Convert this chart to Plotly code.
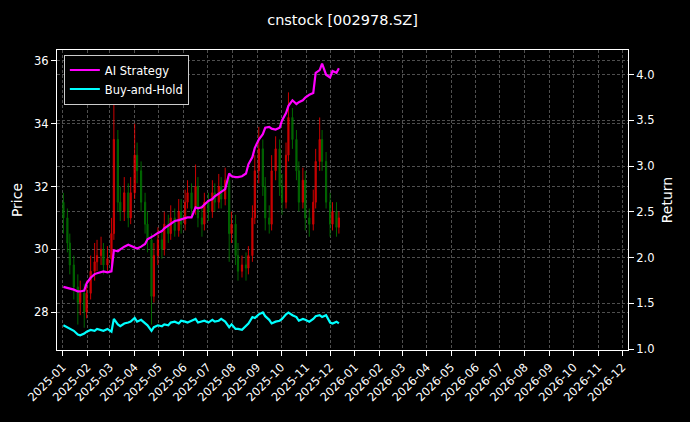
import pandas as pd
import plotly.graph_objects as go

open_ = [31.5,31.0,30.2,29.5,28.8,28.3,28.6,28.0,28.6,29.3,
         29.6,29.8,30.0,29.5,29.7,30.5,33.5,31.5,31.2,31.8,
         31.0,31.8,33.0,32.5,31.5,30.8,30.3,28.5,29.8,30.3,
         30.0,30.8,30.5,31.0,30.6,31.2,30.8,31.5,31.8,31.3,
         32.0,31.0,30.8,31.5,31.2,31.8,31.5,32.0,31.6,32.2,
         30.5,30.8,29.8,29.3,29.5,29.4,29.8,31.0,32.5,33.2,
         32.0,31.0,30.8,32.5,33.2,32.0,31.5,33.0,34.2,33.5,
         32.5,31.5,32.2,31.0,30.8,31.5,32.8,33.5,32.8,31.5,
         30.8,31.2,30.7]
high = [31.8,31.3,30.5,29.8,29.2,29.0,28.9,29.0,29.8,30.2,
        30.3,30.4,30.2,30.1,31.0,35.5,33.8,32.0,32.3,32.1,
        32.3,34.0,33.4,32.8,31.8,31.2,30.5,30.2,30.7,30.6,
        31.2,31.1,31.4,31.3,31.6,31.6,31.9,32.2,32.1,32.7,
        32.3,31.4,31.8,31.8,32.2,32.1,32.4,32.3,32.6,32.4,
        31.2,31.1,30.2,29.8,29.9,30.1,31.4,33.0,33.9,33.5,
        32.3,31.4,33.0,33.6,33.5,32.4,33.4,35.0,34.5,33.8,
        32.8,32.6,32.5,31.3,31.9,33.2,34.2,33.8,33.1,31.8,
        31.5,31.5,31.2]
low = [30.5,29.9,29.2,28.4,27.6,27.9,27.5,27.8,28.4,29.0,
       29.3,29.5,29.2,29.3,29.5,30.3,31.2,30.9,30.9,30.7,
       30.8,31.6,32.1,31.2,30.5,29.9,27.6,28.3,29.5,29.7,
       29.8,30.2,30.3,30.4,30.4,30.5,30.6,31.3,31.0,31.1,
       30.7,30.4,30.6,30.9,31.0,31.2,31.3,31.3,31.4,29.6,
       30.2,29.5,29.0,29.1,29.0,29.2,29.6,30.8,32.1,31.7,
       30.6,30.5,30.6,32.2,31.7,31.1,31.3,32.8,33.2,32.2,
       31.2,31.3,30.6,30.4,30.6,31.3,32.5,32.5,31.3,30.4,
       30.6,30.4,30.5]
close = [31.0,30.2,29.5,28.8,28.3,28.6,28.0,28.6,29.3,29.6,
         29.8,30.0,29.5,29.7,30.5,33.5,31.5,31.2,31.8,31.0,
         31.8,33.0,32.5,31.5,30.8,30.3,28.5,29.8,30.3,30.0,
         30.8,30.5,31.0,30.6,31.2,30.8,31.5,31.8,31.3,32.0,
         31.0,30.8,31.5,31.2,31.8,31.5,32.0,31.6,32.2,30.5,
         30.8,29.8,29.3,29.5,29.4,29.8,31.0,32.5,33.2,32.0,
         31.0,30.8,32.5,33.2,32.0,31.5,33.0,34.2,33.5,32.5,
         31.5,32.2,31.0,30.8,31.5,32.8,33.5,32.8,31.5,30.8,
         31.2,30.7,31.0]
ai_strategy = [1.68,1.67,1.66,1.65,1.63,1.63,1.64,1.72,1.78,1.82,
               1.83,1.84,1.85,1.84,1.85,2.08,2.07,2.09,2.12,2.14,
               2.13,2.11,2.10,2.12,2.15,2.20,2.22,2.24,2.27,2.29,
               2.32,2.35,2.37,2.40,2.41,2.42,2.43,2.44,2.44,2.55,
               2.54,2.55,2.58,2.62,2.64,2.67,2.70,2.72,2.75,2.92,
               2.89,2.88,2.88,2.89,2.92,3.02,3.10,3.20,3.29,3.35,
               3.42,3.43,3.41,3.40,3.42,3.50,3.58,3.66,3.72,3.68,
               3.70,3.72,3.75,3.78,3.80,4.02,4.05,4.12,4.00,3.97,
               4.04,4.02,4.07]
buy_hold = [1.26,1.24,1.22,1.20,1.16,1.15,1.17,1.19,1.21,1.20,
            1.22,1.21,1.20,1.22,1.19,1.33,1.27,1.25,1.28,1.29,
            1.30,1.34,1.30,1.32,1.28,1.26,1.20,1.24,1.26,1.25,
            1.27,1.26,1.29,1.30,1.28,1.31,1.30,1.29,1.31,1.33,
            1.29,1.30,1.31,1.29,1.32,1.30,1.31,1.33,1.30,1.24,
            1.27,1.22,1.22,1.21,1.25,1.28,1.35,1.34,1.38,1.40,
            1.36,1.32,1.28,1.30,1.31,1.33,1.38,1.40,1.37,1.35,
            1.31,1.33,1.32,1.30,1.33,1.36,1.37,1.35,1.37,1.29,
            1.28,1.30,1.28]

n = len(close)
dates = pd.bdate_range("2025-01-02", "2025-12-12")[::3][:n]

fig = go.Figure()
fig.add_trace(go.Candlestick(
    x=dates, open=open_, high=high, low=low, close=close,
    increasing=dict(line=dict(color="#ff0000", width=1), fillcolor="#ff0000"),
    decreasing=dict(line=dict(color="#008000", width=1), fillcolor="#008000"),
    whiskerwidth=0, showlegend=False, opacity=0.8))
fig.add_trace(go.Scatter(x=dates, y=ai_strategy, name="AI Strategy", yaxis="y2",
                         mode="lines", line=dict(color="#ff00ff", width=2.2)))
fig.add_trace(go.Scatter(x=dates, y=buy_hold, name="Buy-and-Hold", yaxis="y2",
                         mode="lines", line=dict(color="#00ffff", width=2.2)))

grid = dict(showgrid=True, gridcolor="#4f4f4f", griddash="3px,2px", gridwidth=0.6, automargin=False)
fig.update_layout(
    width=690, height=422,
    paper_bgcolor="black", plot_bgcolor="black",
    font=dict(family="DejaVu Sans", color="white", size=11.5),
    title=dict(text="cnstock [002978.SZ]", x=0.5, xanchor="center", xref="paper",
               y=0.952, yanchor="middle", font=dict(size=14.5)),
    margin=dict(l=57, r=62, t=50, b=72, autoexpand=False),
    showlegend=True,
    legend=dict(x=0.012, y=0.985, xanchor="left", yanchor="top", bgcolor="black",
                bordercolor="#cccccc", borderwidth=1, font=dict(size=11.5)),
    xaxis=dict(type="date", range=["2024-12-25", "2026-12-08"], dtick="M1",
               tick0="2025-01-01", tickformat="%Y-%m", tickangle=-45,
               rangeslider=dict(visible=False), showline=True, linecolor="white",
               mirror=True, ticks="outside", tickcolor="white", **grid),
    yaxis=dict(title=dict(text="Price", standoff=8), range=[26.79, 36.35], dtick=2,
               showline=True, linecolor="white", mirror=True, ticks="outside",
               tickcolor="white", zeroline=False, **grid),
    yaxis2=dict(title=dict(text="Return", standoff=8), overlaying="y", side="right",
                range=[0.99, 4.27], dtick=0.5, tickformat=".1f", ticks="outside",
                tickcolor="white", zeroline=False, **grid),
)
fig.write_html("out.html", config={"displayModeBar": False},
               post_script="document.body.style.margin='0';document.body.style.background='black';")
